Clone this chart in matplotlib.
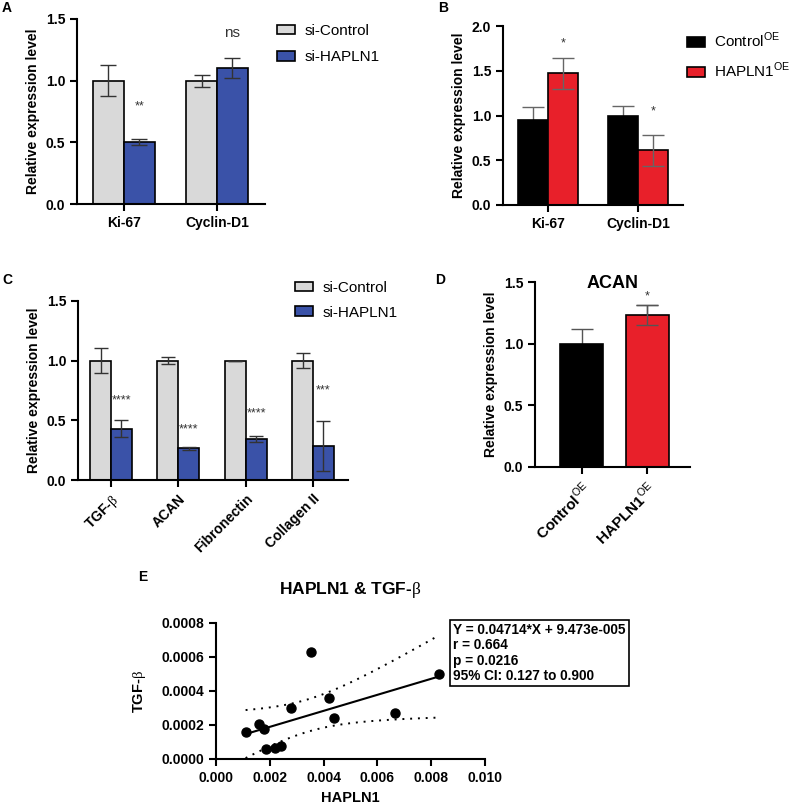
import numpy as np
import matplotlib
matplotlib.use("Agg")
import matplotlib.pyplot as plt

plt.rcParams['font.family'] = ['Liberation Sans', 'DejaVu Sans']
plt.rcParams['mathtext.fontset'] = 'custom'
plt.rcParams['mathtext.rm'] = 'Liberation Serif'
plt.rcParams['mathtext.sf'] = 'Liberation Sans'
plt.rcParams['mathtext.bf'] = 'Liberation Sans:bold'
plt.rcParams['axes.linewidth'] = 1.5

# ---- data ----
a_genes = ['Ki-67', 'Cyclin-D1']
a_ctrl = [1.00, 1.00]
a_ctrl_err = [0.125, 0.05]
a_si = [0.50, 1.10]
a_si_err = [0.025, 0.08]
a_stars = ['**', 'ns']
a_star_y = [0.79, 1.39]

b_genes = ['Ki-67', 'Cyclin-D1']
b_ctrl = [0.95, 1.00]
b_ctrl_err = [0.15, 0.11]
b_oe = [1.47, 0.61]
b_oe_err = [0.17, 0.17]
b_stars = ['*', '*']
b_star_y = [1.81, 1.04]

c_genes = ['TGF-$\\mathrm{\\beta}$', 'ACAN', 'Fibronectin', 'Collagen II']
c_ctrl = [1.00, 1.00, 1.00, 1.00]
c_ctrl_err = [0.105, 0.03, 0.0, 0.065]
c_si = [0.43, 0.265, 0.345, 0.285]
c_si_err = [0.07, 0.01, 0.025, 0.21]
c_stars = ['****', '****', '****', '***']
c_star_y = [0.67, 0.42, 0.56, 0.75]

d_groups = ['Control$^{\\mathsf{OE}}$', 'HAPLN1$^{\\mathsf{OE}}$']
d_vals = [1.00, 1.235]
d_err = [0.115, 0.08]

e_hapln1 = [0.00110, 0.00160, 0.00178, 0.00185, 0.00219, 0.00240,
            0.00279, 0.00353, 0.00420, 0.00439, 0.00665, 0.00830]
e_tgfb = [0.000156, 0.000207, 0.000176, 0.000060, 0.000064, 0.000078,
          0.000300, 0.000630, 0.000359, 0.000242, 0.000273, 0.000498]
e_slope = 0.04714
e_icpt = 9.473e-5
e_t975 = 2.228  # t quantile, df = 10

gray = '#d9d9d9'
blue = '#3a52a8'
red = '#e8202a'
W, H = 791, 811


def fig_rect(l, r, t, b):
    return [l / W, 1 - b / H, (r - l) / W, (b - t) / H]


def style(ax):
    for s in ['top', 'right']:
        ax.spines[s].set_visible(False)
    ax.tick_params(width=1.5, length=5, labelsize=10)
    for lab in ax.get_xticklabels() + ax.get_yticklabels():
        lab.set_fontweight('bold')
    ax.set_ylabel('Relative expression level', fontsize=10, fontweight='bold')


def legend(ax, x0, y0, spacing):
    ax.legend(loc='upper left', bbox_to_anchor=(x0 / W, 1 - y0 / H), bbox_transform=fig.transFigure,
              frameon=False, fontsize=11, handlelength=1.2, handleheight=0.6, handletextpad=0.6,
              labelspacing=spacing, borderpad=0, borderaxespad=0)


fig = plt.figure(figsize=(W / 100, H / 100), dpi=100)

# ---- A ----
ax = fig.add_axes(fig_rect(77, 265, 19, 204))
x = np.arange(len(a_genes))
w = 0.333
ax.bar(x - w / 2, a_ctrl, w, color=gray, edgecolor='black', lw=1.2, label='si-Control')
ax.bar(x + w / 2, a_si, w, color=blue, edgecolor='black', lw=1.2, label='si-HAPLN1')
ax.errorbar(x - w / 2, a_ctrl, yerr=a_ctrl_err, fmt='none', ecolor='#333333', capsize=6, lw=1)
ax.errorbar(x + w / 2, a_si, yerr=a_si_err, fmt='none', ecolor='#333333', capsize=6, lw=1)
for i, s in enumerate(a_stars):
    ax.text(x[i] + w / 2, a_star_y[i], s, ha='center', va='center',
            fontsize=11 if s == 'ns' else 9, color='#333333')
ax.set_xlim(-0.505, 1.516)
ax.set_ylim(0, 1.5)
ax.set_yticks([0, 0.5, 1.0, 1.5])
ax.set_xticks(x)
ax.set_xticklabels(a_genes)
style(ax)
legend(ax, 277, 24, 0.8)

# ---- B ----
ax = fig.add_axes(fig_rect(503, 683, 26, 205))
x = np.arange(len(b_genes))
ax.errorbar(x - w / 2, b_ctrl, yerr=b_ctrl_err, fmt='none', ecolor='#666666', capsize=8, lw=1, zorder=1)
ax.bar(x - w / 2, b_ctrl, w, color='black', edgecolor='black', lw=1.2, label='Control$^{\\mathsf{OE}}$', zorder=2)
ax.bar(x + w / 2, b_oe, w, color=red, edgecolor='black', lw=1.2, label='HAPLN1$^{\\mathsf{OE}}$', zorder=2)
ax.errorbar(x + w / 2, b_oe, yerr=b_oe_err, fmt='none', ecolor='#666666', capsize=8, lw=1, zorder=3)
for i, s in enumerate(b_stars):
    ax.text(x[i] + w / 2, b_star_y[i], s, ha='center', va='center', fontsize=9, color='#333333')
ax.set_xlim(-0.5, 1.5)
ax.set_ylim(0, 2.0)
ax.set_yticks([0, 0.5, 1.0, 1.5, 2.0])
ax.set_xticks(x)
ax.set_xticklabels(b_genes)
style(ax)
legend(ax, 687, 31, 0.7)

# ---- C ----
ax = fig.add_axes(fig_rect(78, 348, 301, 480))
x = np.arange(len(c_genes))
w = 0.31
ax.bar(x - w / 2, c_ctrl, w, color=gray, edgecolor='black', lw=1.2, label='si-Control')
ax.bar(x + w / 2, c_si, w, color=blue, edgecolor='black', lw=1.2, label='si-HAPLN1')
ax.errorbar(x - w / 2, c_ctrl, yerr=c_ctrl_err, fmt='none', ecolor='#333333', capsize=5, lw=1)
ax.errorbar(x + w / 2, c_si, yerr=c_si_err, fmt='none', ecolor='#333333', capsize=5, lw=1)
for i, s in enumerate(c_stars):
    ax.text(x[i] + w / 2, c_star_y[i], s, ha='center', va='center', fontsize=9, color='#333333')
ax.set_xlim(-0.49, 3.52)
ax.set_ylim(0, 1.5)
ax.set_yticks([0, 0.5, 1.0, 1.5])
ax.set_xticks(x)
ax.set_xticklabels(c_genes, rotation=45, ha='right', rotation_mode='anchor')
style(ax)
legend(ax, 295, 281, 0.7)

# ---- D ----
ax = fig.add_axes(fig_rect(535, 690, 282, 467))
x = np.arange(len(d_groups))
w = 0.66
ax.errorbar(x, d_vals, yerr=d_err, fmt='none', ecolor='#555555', capsize=8, lw=1, zorder=1)
ax.bar(x[:1], d_vals[:1], w, color='black', edgecolor='black', lw=1.2, zorder=2)
ax.bar(x[1:], d_vals[1:], w, color=red, edgecolor='black', lw=1.2, zorder=2)
ax.errorbar(x[1:], d_vals[1:], yerr=d_err[1:], fmt='none', ecolor='#555555', capsize=8, lw=1, zorder=3)
ax.text(x[1], 1.38, '*', ha='center', va='center', fontsize=9, color='#333333')
ax.text(0.5, 0.968, 'ACAN', transform=ax.transAxes, ha='center', va='baseline',
        fontsize=13, fontweight='bold')
ax.set_xlim(-0.72, 1.66)
ax.set_ylim(0, 1.5)
ax.set_yticks([0, 0.5, 1.0, 1.5])
ax.set_xticks(x)
ax.set_xticklabels(d_groups, rotation=45, ha='right', rotation_mode='anchor')
style(ax)
for lab in ax.get_xticklabels():
    lab.set_fontsize(11)

# ---- E ----
ax = fig.add_axes(fig_rect(216, 485, 623, 759))
hx = np.array(e_hapln1)
ty = np.array(e_tgfb)
n = len(hx)
xx = np.linspace(hx.min(), hx.max(), 100)
yy = e_slope * xx + e_icpt
resid = ty - (e_slope * hx + e_icpt)
s = np.sqrt(np.sum(resid ** 2) / (n - 2))
se = s * np.sqrt(1 / n + (xx - hx.mean()) ** 2 / np.sum((hx - hx.mean()) ** 2))
ax.plot(xx, yy, color='black', lw=1.5)
ax.plot(xx, yy + e_t975 * se, color='black', lw=1.4, ls=(0, (1, 3)))
ax.plot(xx, yy - e_t975 * se, color='black', lw=1.4, ls=(0, (1, 3)))
ax.plot(hx, ty, 'o', color='black', ms=6.5, clip_on=False, zorder=5)
ax.set_xlim(0, 0.010)
ax.set_ylim(0, 0.0008)
ax.set_xticks([0, 0.002, 0.004, 0.006, 0.008, 0.010])
ax.set_xticklabels(['0.000', '0.002', '0.004', '0.006', '0.008', '0.010'])
ax.set_yticks([0, 0.0002, 0.0004, 0.0006, 0.0008])
ax.set_yticklabels(['0.0000', '0.0002', '0.0004', '0.0006', '0.0008'])
for sp in ['top', 'right']:
    ax.spines[sp].set_visible(False)
ax.tick_params(width=1.5, length=5, labelsize=10)
ax.tick_params(axis='x', pad=4)
for lab in ax.get_xticklabels() + ax.get_yticklabels():
    lab.set_fontweight('bold')
ax.set_xlabel('HAPLN1', fontsize=10.5, fontweight='bold', labelpad=4)
ax.set_ylabel('TGF-$\\mathrm{\\beta}$', fontsize=10.5, fontweight='bold', labelpad=10)
ax.text(0.5, 1.24, 'HAPLN1 & TGF-$\\mathrm{\\beta}$', transform=ax.transAxes, ha='center',
        va='center', fontsize=12.5, fontweight='bold')
fig.text(453 / W, 1 - 623 / H,
         'Y = 0.04714*X + 9.473e-005\nr = 0.664\np = 0.0216\n95% CI: 0.127 to 0.900',
         ha='left', va='top', fontsize=9.8, fontweight='bold', linespacing=1.12,
         bbox=dict(boxstyle='square,pad=0.25', fc='white', ec='black', lw=1.2))

# panel letters
for letter, px, py in [('A', 2, 8), ('B', 438, 8), ('C', 2, 280), ('D', 435, 280), ('E', 138, 577)]:
    fig.text(px / W, 1 - py / H, letter, ha='left', va='center', fontsize=10, fontweight='bold')

fig.savefig('out.png', dpi=100)
